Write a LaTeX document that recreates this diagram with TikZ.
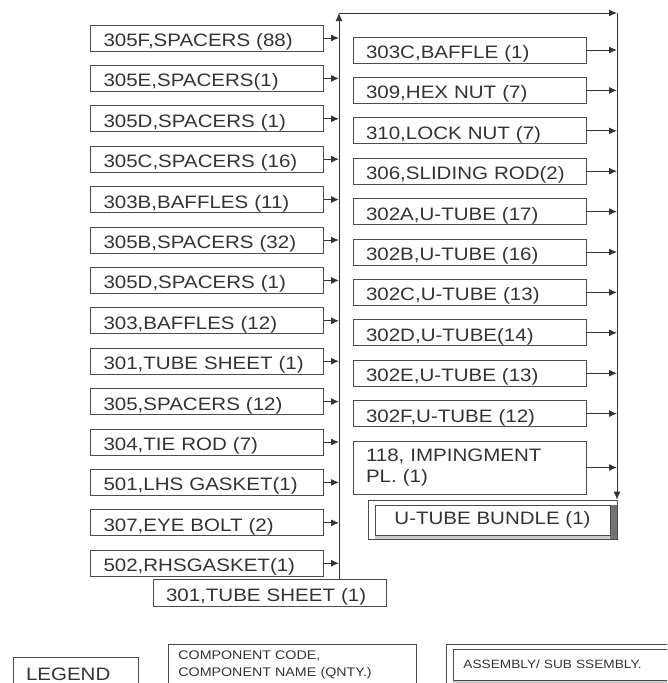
\documentclass[tikz,border=0pt]{standalone}
\usepackage{fontspec}
\newfontfamily\arialish{Liberation Sans}[FakeStretch=1.14]
\usetikzlibrary{arrows.meta,positioning}

\begin{document}
\begin{tikzpicture}[x=1pt, y=-1pt, node distance=13.6pt,
  part/.style={draw=black!70, line width=0.8pt, text=black!80, align=left, text width=207pt, inner xsep=13pt, inner ysep=0pt, minimum height=26pt, text height=17pt, text depth=0pt, font=\arialish\fontsize{18}{21}\selectfont},
  assy/.style={draw=black!70, line width=0.8pt, text=black!80, inner sep=0pt, path picture={
    \fill[black!20] ([shift={(7pt,4pt)}]path picture bounding box.south west) rectangle (path picture bounding box.south east);
    \fill[black!55] ([shift={(-7pt,-5pt)}]path picture bounding box.north east) rectangle (path picture bounding box.south east);
    \draw[black!70, line width=0.8pt] ([shift={(7pt,-5pt)}]path picture bounding box.north west) rectangle ([shift={(-7pt,4pt)}]path picture bounding box.south east);}},
  arrow/.style={-{Latex[length=8pt,width=7pt]}, draw=black!80, line width=1pt}]
\useasboundingbox (0,0) rectangle (667,683);
\clip (0,0) rectangle (667,683);
% parts going into the tube sheet
\node[part] (sp305f) at (207,38) {305F,SPACERS (88)};
\node[part,below=of sp305f] (sp305e) {305E,SPACERS(1)};
\node[part,below=of sp305e] (sp305d) {305D,SPACERS (1)};
\node[part,below=of sp305d] (sp305c) {305C,SPACERS (16)};
\node[part,below=of sp305c] (bf303b) {303B,BAFFLES (11)};
\node[part,below=of bf303b] (sp305b) {305B,SPACERS (32)};
\node[part,below=of sp305b] (sp305dd) {305D,SPACERS (1)};
\node[part,below=of sp305dd] (bf303) {303,BAFFLES (12)};
\node[part,below=of bf303] (ts301) {301,TUBE SHEET (1)};
\node[part,below=of ts301] (sp305) {305,SPACERS (12)};
\node[part,below=of sp305] (tr304) {304,TIE ROD (7)};
\node[part,below=of tr304] (gk501) {501,LHS GASKET(1)};
\node[part,below=of gk501] (eb307) {307,EYE BOLT (2)};
\node[part,below=of eb307] (gk502) {502,RHSGASKET(1)};
\node[part,minimum height=27pt] (tsheet) at (269.5,592.5) {301,TUBE SHEET (1)};
% parts going into the bundle
\node[part] (bf303c) at (469.5,50) {303C,BAFFLE (1)};
\node[part,below=of bf303c] (hn309) {309,HEX NUT (7)};
\node[part,below=of hn309] (ln310) {310,LOCK NUT (7)};
\node[part,below=of ln310] (sr306) {306,SLIDING ROD(2)};
\node[part,below=of sr306] (ut302a) {302A,U-TUBE (17)};
\node[part,below=of ut302a] (ut302b) {302B,U-TUBE (16)};
\node[part,below=of ut302b] (ut302c) {302C,U-TUBE (13)};
\node[part,below=of ut302c] (ut302d) {302D,U-TUBE(14)};
\node[part,below=of ut302d] (ut302e) {302E,U-TUBE (13)};
\node[part,below=of ut302e] (ut302f) {302F,U-TUBE (12)};
\node[part,below=of ut302f,minimum height=53pt,text height=,text depth=] (ip118) {118, IMPINGMENT\\PL. (1)};
\node[assy,minimum width=249pt,minimum height=39pt,font=\arialish\fontsize{18}{21}\selectfont] (ubundle) at (492.5,519.5) {U-TUBE BUNDLE (1)};
% bus lines
\coordinate (ltop) at (339,13);
\coordinate (rtop) at (617,13);
\draw[arrow] (tsheet.north -| ltop) -- (ltop);
\draw[arrow] (ltop) -- (rtop);
\draw[arrow] (rtop) -- (rtop |- ubundle.north);
\draw[arrow] (sp305f) -- (sp305f -| ltop);
\draw[arrow] (sp305e) -- (sp305e -| ltop);
\draw[arrow] (sp305d) -- (sp305d -| ltop);
\draw[arrow] (sp305c) -- (sp305c -| ltop);
\draw[arrow] (bf303b) -- (bf303b -| ltop);
\draw[arrow] (sp305b) -- (sp305b -| ltop);
\draw[arrow] (sp305dd) -- (sp305dd -| ltop);
\draw[arrow] (bf303) -- (bf303 -| ltop);
\draw[arrow] (ts301) -- (ts301 -| ltop);
\draw[arrow] (sp305) -- (sp305 -| ltop);
\draw[arrow] (tr304) -- (tr304 -| ltop);
\draw[arrow] (gk501) -- (gk501 -| ltop);
\draw[arrow] (eb307) -- (eb307 -| ltop);
\draw[arrow] (gk502) -- (gk502 -| ltop);
\draw[arrow] (bf303c) -- (bf303c -| rtop);
\draw[arrow] (hn309) -- (hn309 -| rtop);
\draw[arrow] (ln310) -- (ln310 -| rtop);
\draw[arrow] (sr306) -- (sr306 -| rtop);
\draw[arrow] (ut302a) -- (ut302a -| rtop);
\draw[arrow] (ut302b) -- (ut302b -| rtop);
\draw[arrow] (ut302c) -- (ut302c -| rtop);
\draw[arrow] (ut302d) -- (ut302d -| rtop);
\draw[arrow] (ut302e) -- (ut302e -| rtop);
\draw[arrow] (ut302f) -- (ut302f -| rtop);
\draw[arrow] (ip118) -- (ip118 -| rtop);
% legend
\node[part,text width=99pt,minimum height=30pt] (legend) at (75.5,672) {LEGEND};
\node[part,anchor=north west,text width=228pt,inner xsep=10pt,minimum height=41pt,text height=,text depth=,font=\arialish\fontsize{12.5}{17}\selectfont] (lgcomp) at (168,644) {COMPONENT CODE,\\COMPONENT NAME (QNTY.)};
\node[assy,anchor=north west,minimum width=240pt,minimum height=40pt,text width=206pt,align=left,inner xsep=17pt,font=\arialish\fontsize{12}{14}\selectfont] (lgassy) at (446,644) {ASSEMBLY/ SUB SSEMBLY.};
\end{tikzpicture}
\end{document}
